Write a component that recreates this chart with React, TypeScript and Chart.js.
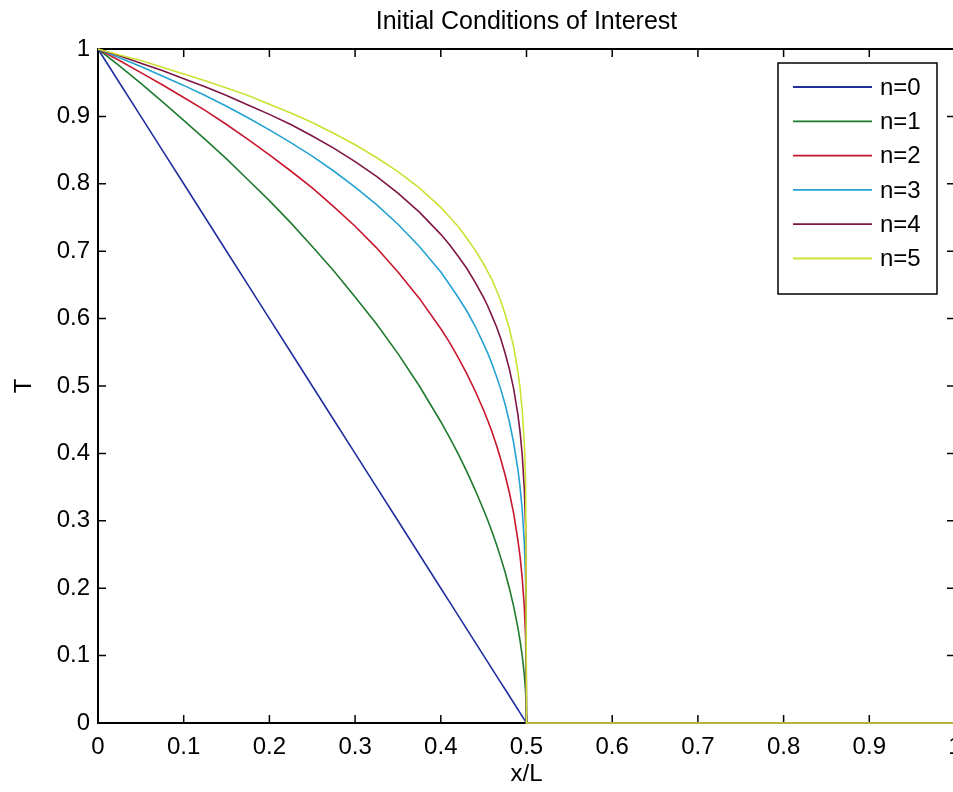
import { useEffect, useRef } from "react";
import { Chart, registerables } from "chart.js";

Chart.register(...registerables);

// Sample positions along x/L (denser near the front at x/L = 0.5)
const xPositions = [
  0, 0.025, 0.05, 0.075, 0.1, 0.125, 0.15, 0.175, 0.2, 0.225, 0.25, 0.275, 0.3,
  0.325, 0.35, 0.375, 0.4, 0.41, 0.42, 0.43, 0.44, 0.45, 0.455, 0.46, 0.465,
  0.47, 0.475, 0.48, 0.485, 0.49, 0.4925, 0.495, 0.4975, 0.499, 0.5, 1.0,
];

// Temperature profiles T for each n
const tempN0 = [
  1, 0.95, 0.9, 0.85, 0.8, 0.75, 0.7, 0.65, 0.6, 0.55, 0.5, 0.45, 0.4, 0.35, 0.3,
  0.25, 0.2, 0.18, 0.16, 0.14, 0.12, 0.1, 0.09, 0.08, 0.07, 0.06, 0.05, 0.04,
  0.03, 0.02, 0.015, 0.01, 0.005, 0.002, 0, 0,
];
const tempN1 = [
  1, 0.975, 0.949, 0.922, 0.894, 0.866, 0.837, 0.806, 0.775, 0.742, 0.707,
  0.671, 0.632, 0.592, 0.548, 0.5, 0.447, 0.424, 0.4, 0.374, 0.346, 0.316, 0.3,
  0.283, 0.265, 0.245, 0.224, 0.2, 0.173, 0.141, 0.122, 0.1, 0.071, 0.045, 0, 0,
];
const tempN2 = [
  1, 0.983, 0.965, 0.947, 0.928, 0.909, 0.888, 0.866, 0.843, 0.819, 0.794,
  0.766, 0.737, 0.705, 0.669, 0.63, 0.585, 0.565, 0.543, 0.519, 0.493, 0.464,
  0.448, 0.431, 0.412, 0.391, 0.368, 0.342, 0.311, 0.271, 0.247, 0.215, 0.171,
  0.126, 0, 0,
];
const tempN3 = [
  1, 0.987, 0.974, 0.96, 0.946, 0.931, 0.915, 0.898, 0.88, 0.861, 0.841,
  0.819, 0.795, 0.769, 0.74, 0.707, 0.669, 0.651, 0.632, 0.612, 0.589, 0.562,
  0.548, 0.532, 0.514, 0.495, 0.473, 0.447, 0.416, 0.376, 0.35, 0.316, 0.266,
  0.211, 0, 0,
];
const tempN4 = [
  1, 0.99, 0.979, 0.968, 0.956, 0.944, 0.931, 0.917, 0.903, 0.888, 0.871,
  0.853, 0.833, 0.811, 0.786, 0.758, 0.725, 0.71, 0.693, 0.675, 0.654, 0.631,
  0.618, 0.603, 0.588, 0.57, 0.549, 0.525, 0.496, 0.457, 0.432, 0.398, 0.346,
  0.289, 0, 0,
];
const tempN5 = [
  1, 0.991, 0.983, 0.973, 0.963, 0.953, 0.942, 0.931, 0.918, 0.905, 0.891,
  0.875, 0.858, 0.839, 0.818, 0.794, 0.765, 0.751, 0.737, 0.72, 0.702, 0.681,
  0.669, 0.657, 0.642, 0.626, 0.607, 0.585, 0.558, 0.521, 0.497, 0.464, 0.414,
  0.355, 0, 0,
];

const seriesLabels = ["n=0", "n=1", "n=2", "n=3", "n=4", "n=5"];
const seriesValues = [tempN0, tempN1, tempN2, tempN3, tempN4, tempN5];
const seriesColors = ["#1f2f9e", "#1e7a2c", "#c8162c", "#24a2d2", "#7e1544", "#cde034"];

const tickValues = [0, 0.1, 0.2, 0.3, 0.4, 0.5, 0.6, 0.7, 0.8, 0.9, 1];

const chartTitle = "Initial Conditions of Interest";
const xAxisTitle = "x/L";
const yAxisTitle = "T";

const FONT = '"Liberation Sans", Arial, sans-serif';
const CANVAS_W = 1000;
const CANVAS_H = 792;

const formatTick = (v: number) =>
  v === 0 || v === 1 ? String(v) : v.toFixed(1);

// Box around the axes with inward tick marks on all four sides
const axesFramePlugin = {
  id: "axesFrame",
  beforeDatasetsDraw(chart: any) {
    const { ctx, chartArea, scales } = chart;
    const { left, right, top, bottom } = chartArea;
    ctx.save();
    ctx.strokeStyle = "#000";
    ctx.lineWidth = 2;
    ctx.strokeRect(left, top, right - left, bottom - top);
    ctx.lineWidth = 1.5;
    const len = 8;
    ctx.beginPath();
    for (const v of tickValues) {
      if (v === 0 || v === 1) continue;
      const px = scales.x.getPixelForValue(v);
      ctx.moveTo(px, bottom);
      ctx.lineTo(px, bottom - len);
      ctx.moveTo(px, top);
      ctx.lineTo(px, top + len);
      const py = scales.y.getPixelForValue(v);
      ctx.moveTo(left, py);
      ctx.lineTo(left + len, py);
      ctx.moveTo(right, py);
      ctx.lineTo(right - len, py);
    }
    ctx.stroke();
    ctx.restore();
  },
};

// Title centred over the plot area
const plotTitlePlugin = {
  id: "plotTitle",
  afterDraw(chart: any) {
    const { ctx, chartArea } = chart;
    ctx.save();
    ctx.fillStyle = "#000";
    ctx.font = `25px ${FONT}`;
    ctx.textAlign = "center";
    ctx.textBaseline = "middle";
    ctx.fillText(chartTitle, (chartArea.left + chartArea.right) / 2, 22);
    ctx.restore();
  },
};

// Boxed legend in the upper right corner of the axes
const boxLegendPlugin = {
  id: "boxLegend",
  afterDatasetsDraw(chart: any) {
    const { ctx, chartArea } = chart;
    const boxW = 159;
    const boxH = 231;
    const bx = chartArea.right - 18 - boxW;
    const by = chartArea.top + 14;
    ctx.save();
    ctx.fillStyle = "#fff";
    ctx.fillRect(bx, by, boxW, boxH);
    ctx.strokeStyle = "#000";
    ctx.lineWidth = 1.5;
    ctx.strokeRect(bx, by, boxW, boxH);
    ctx.font = `24px ${FONT}`;
    ctx.textAlign = "left";
    ctx.textBaseline = "middle";
    seriesLabels.forEach((label, i) => {
      const rowY = by + 24 + i * 34.3;
      ctx.strokeStyle = seriesColors[i];
      ctx.lineWidth = 1.8;
      ctx.beginPath();
      ctx.moveTo(bx + 15, rowY);
      ctx.lineTo(bx + 94, rowY);
      ctx.stroke();
      ctx.fillStyle = "#000";
      ctx.fillText(label, bx + 102, rowY + 1);
    });
    ctx.restore();
  },
};

export default function App() {
  const canvasRef = useRef<HTMLCanvasElement | null>(null);

  useEffect(() => {
    if (!canvasRef.current) return;
    const datasets = seriesLabels.map((label, i) => ({
      label,
      data: xPositions.map((x, j) => ({ x, y: seriesValues[i][j] })),
      borderColor: seriesColors[i],
      backgroundColor: seriesColors[i],
      borderWidth: 1.6,
      pointRadius: 0,
      tension: 0,
      fill: false,
      clip: false as const,
      // later series are painted over earlier ones
      order: seriesLabels.length - i,
    }));

    const chart = new Chart(canvasRef.current, {
      type: "line",
      data: { datasets },
      options: {
        responsive: false,
        animation: false,
        devicePixelRatio: 1,
        layout: { padding: { top: 49, right: CANVAS_W - 955, left: 0, bottom: 0 } },
        plugins: {
          legend: { display: false },
          title: { display: false },
          tooltip: { enabled: false },
        },
        scales: {
          x: {
            type: "linear",
            min: 0,
            max: 1,
            afterFit: (scale: any) => {
              scale.height = 69;
            },
            afterBuildTicks: (scale: any) => {
              scale.ticks = tickValues.map((value) => ({ value }));
            },
            grid: { display: false, drawTicks: false },
            border: { display: false },
            ticks: {
              color: "#000",
              font: { family: FONT, size: 24 },
              padding: 10,
              maxRotation: 0,
              autoSkip: false,
              callback: (v: any) => formatTick(Number(v)),
            },
            title: {
              display: true,
              text: xAxisTitle,
              color: "#000",
              font: { family: FONT, size: 24 },
              padding: { top: 0, bottom: 3 },
            },
          },
          y: {
            type: "linear",
            min: 0,
            max: 1,
            afterFit: (scale: any) => {
              scale.width = 98;
            },
            afterBuildTicks: (scale: any) => {
              scale.ticks = tickValues.map((value) => ({ value }));
            },
            grid: { display: false, drawTicks: false },
            border: { display: false },
            ticks: {
              color: "#000",
              font: { family: FONT, size: 24 },
              padding: 8,
              autoSkip: false,
              callback: (v: any) => formatTick(Number(v)),
            },
            title: {
              display: true,
              text: yAxisTitle,
              color: "#000",
              font: { family: FONT, size: 24 },
              padding: { top: 10, bottom: 0 },
            },
          },
        },
      },
      plugins: [axesFramePlugin, boxLegendPlugin, plotTitlePlugin],
    });

    return () => chart.destroy();
  }, []);

  return (
    <div
      style={{
        position: "fixed",
        left: 0,
        top: 0,
        width: 953,
        height: 792,
        overflow: "hidden",
        background: "#fff",
      }}
    >
      <canvas
        ref={canvasRef}
        width={CANVAS_W}
        height={CANVAS_H}
        style={{ display: "block", width: CANVAS_W, height: CANVAS_H }}
      />
    </div>
  );
}
